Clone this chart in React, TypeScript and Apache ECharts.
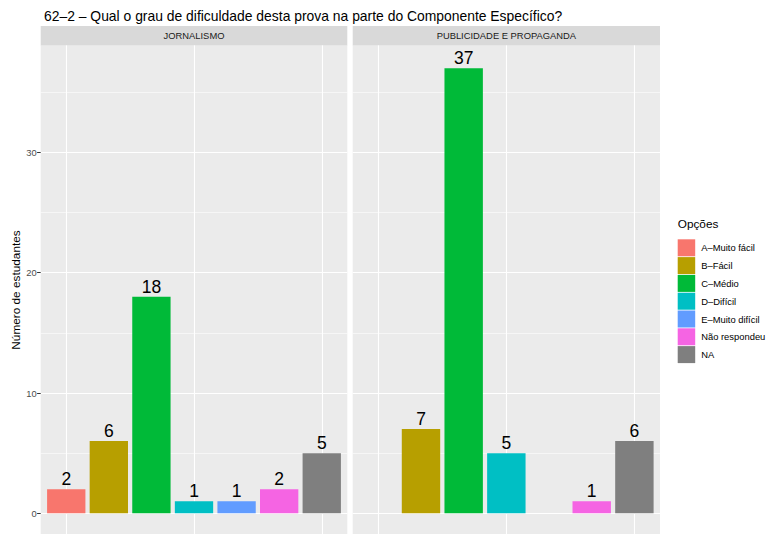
import React, { useEffect, useRef } from "react";
import * as echarts from "echarts";

const titleText = "62–2 – Qual o grau de dificuldade desta prova na parte do Componente Específico?";
const panels = ["JORNALISMO", "PUBLICIDADE E PROPAGANDA"];
const options = ["A–Muito fácil", "B–Fácil", "C–Médio", "D–Difícil", "E–Muito difícil", "Não respondeu", "NA"];
const colors = ["#F8766D", "#B79F00", "#00BA38", "#00BFC4", "#619CFF", "#F564E3", "#7F7F7F"];
const jornalismo: (number | null)[] = [2, 6, 18, 1, 1, 2, 5];
const publicidade: (number | null)[] = [null, 7, 37, 5, null, 1, 6];
const yTicks = [0, 10, 20, 30];
const yMinorTicks = [5, 15, 25, 35];
const yAxisTitle = "Número de estudantes";
const legendTitle = "Opções";

const FONT = "'Liberation Sans', Arial, Helvetica, sans-serif";

export default function App() {
  const ref = useRef<HTMLDivElement>(null);
  useEffect(() => {
    if (!ref.current) return;
    const chart = echarts.init(ref.current, null, { renderer: "svg" });
    const values = [jornalismo, publicidade];
    const panelLeft = [40.7, 352.7];
    const panelWidth = [306.6, 307.3];
    const k = 12.03;
    const zeroY = 513.3;
    const gridTop = 45;
    const gridBottom = 534;
    const yMax = (zeroY - gridTop) / k;
    const yMin = -(gridBottom - zeroY) / k;
    const gridHeight = gridBottom - gridTop;

    const grids: any[] = [];
    const xAxes: any[] = [];
    const yAxes: any[] = [];
    const series: any[] = [];
    const graphics: any[] = [];

    panels.forEach((p, pi) => {
      const u = panelWidth[pi] / 7.2;
      grids.push({
        left: panelLeft[pi], top: gridTop, width: panelWidth[pi], height: gridHeight,
        show: true, backgroundColor: "#EBEBEB", borderWidth: 0,
      });
      grids.push({
        left: panelLeft[pi] + 0.6 * u, top: gridTop, width: 6 * u, height: gridHeight,
        show: false,
      });
      const outer = pi * 2;
      const inner = pi * 2 + 1;
      xAxes.push({ type: "value", gridIndex: outer, min: 0, max: 1, show: false });
      xAxes.push({
        type: "category", gridIndex: inner, data: options, boundaryGap: false,
        axisLine: { show: false }, axisTick: { show: false }, axisLabel: { show: false },
        splitLine: { show: true, lineStyle: { color: "#FFFFFF", width: 1.1 } },
      });
      yAxes.push({
        type: "value", gridIndex: outer, min: yMin, max: yMax, position: "right",
        axisLine: { show: false },
        axisTick: { show: false, customValues: yMinorTicks },
        axisLabel: { show: false, customValues: yMinorTicks },
        splitLine: { show: true, lineStyle: { color: "#FFFFFF", width: 0.55 } },
      });
      yAxes.push({
        type: "value", gridIndex: outer, min: yMin, max: yMax, position: "left",
        axisLine: { show: false },
        axisTick: { show: pi === 0, length: 3.6, lineStyle: { color: "#333333", width: 1 }, customValues: yTicks },
        axisLabel: {
          show: pi === 0, customValues: yTicks, color: "#4D4D4D", fontSize: 9.4, fontFamily: FONT, margin: 4,
        },
        splitLine: { show: true, lineStyle: { color: "#FFFFFF", width: 1.1 } },
      });
      yAxes.push({ type: "value", gridIndex: inner, min: yMin, max: yMax, show: false });
      const innerY = pi * 3 + 2;

      options.forEach((opt, oi) => {
        const v = values[pi][oi];
        const data = options.map((_, j) => (j === oi && v != null ? v : "-"));
        series.push({
          type: "bar", name: opt, xAxisIndex: inner, yAxisIndex: innerY, stack: "p" + pi,
          data, barWidth: 0.9 * u, clip: false,
          itemStyle: { color: colors[oi] },
          label: { show: true, position: "top", distance: 1, color: "#000000", fontSize: 17.5, fontFamily: FONT },
        });
      });

      graphics.push({
        type: "rect", z: 100,
        shape: { x: panelLeft[pi], y: 26, width: panelWidth[pi], height: 19.3 },
        style: { fill: "#D9D9D9" },
      });
      graphics.push({
        type: "text", z: 101, x: panelLeft[pi] + panelWidth[pi] / 2, y: 35.7,
        style: { text: p, fill: "#1A1A1A", fontSize: 9.4, fontFamily: FONT, align: "center", verticalAlign: "middle" },
      });
    });

    graphics.push({
      type: "text", z: 101, x: 677.7, y: 224,
      style: { text: legendTitle, fill: "#000000", fontSize: 11.8, fontFamily: FONT, align: "left", verticalAlign: "middle" },
    });
    graphics.push({
      type: "text", z: 101, x: 15.5, y: 290, rotation: Math.PI / 2,
      style: { text: yAxisTitle, fill: "#000000", fontSize: 11.8, fontFamily: FONT, align: "center", verticalAlign: "middle" },
    });

    chart.setOption({
      animation: false,
      backgroundColor: "#FFFFFF",
      title: {
        text: titleText, left: 39, top: 4,
        textStyle: { color: "#000000", fontSize: 13.9, fontWeight: "normal", fontFamily: FONT },
      },
      grid: grids,
      xAxis: xAxes,
      yAxis: yAxes,
      series,
      legend: {
        orient: "vertical", left: 677.7, top: 239.3, padding: 0,
        itemWidth: 17.5, itemHeight: 17, itemGap: 0.8,
        icon: "rect", selectedMode: false,
        data: options,
        textStyle: { color: "#000000", fontSize: 9.4, fontFamily: FONT, padding: [0, 0, 0, 1] },
      },
      graphic: graphics,
    });
    return () => chart.dispose();
  }, []);
  return <div ref={ref} style={{ width: 769, height: 534, position: "absolute", left: 0, top: 0, overflow: "hidden" }} />;
}
